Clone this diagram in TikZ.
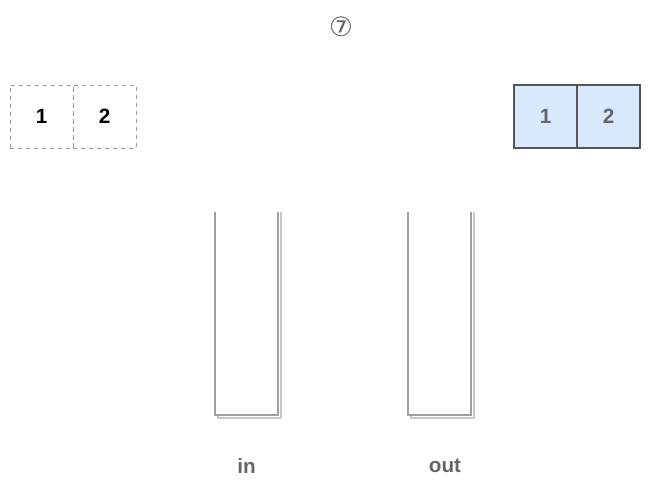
\documentclass[tikz,border=0pt]{standalone}
\usepackage{fontspec}
\setmainfont{Liberation Sans}
\newfontfamily\symfont{DejaVu Sans}
\usetikzlibrary{positioning}
\definecolor{cellblue}{HTML}{DAE8FC}
\definecolor{celledge}{HTML}{555555}
\definecolor{stackedge}{HTML}{A0A0A0}
\definecolor{stackshade}{HTML}{C8C8C8}
\definecolor{labelgray}{HTML}{666666}
\tikzset{%
	cell/.style={inner sep=0pt,outer sep=0pt,shape=rectangle,minimum width=47.25pt,minimum height=47.25pt,font=\fontsize{15.5}{17}\selectfont\bfseries},
	ghost/.style={cell,draw=gray!80,dashed,text=black},
	filled/.style={cell,draw=celledge,fill=cellblue,text=celledge!90,line width=0.9pt},
	stack/.style={stackedge,line width=1pt,fill=white},
	shade/.style={stackshade,line width=2pt},
	caption/.style={font=\fontsize{15.5}{17}\selectfont\bfseries,text=labelgray},
}

\begin{document}
\begin{tikzpicture}[x=0.75pt,y=-0.75pt]
			\useasboundingbox (0,0) rectangle (656,481);
			
			%step number
			\node[text=labelgray,font=\symfont\fontsize{20}{22}\selectfont] (num) at (341,27) {⑦};
			
			%dashed pair
			\node[ghost] (g1) at (41.5,116.5) {1};
			\node[ghost,right=0pt of g1] (g2) {2};
			
			%filled pair
			\node[filled] (f1) at (545.5,116.5) {1};
			\node[filled,right=0pt of f1] (f2) {2};
			
			%stacks
			\draw[shade] (218,212) -- (218,418) -- (281,418) -- (281,212);
			\draw[stack] (215,212) -- (215,415) -- (278,415) -- (278,212);
			\draw[shade] (411,212) -- (411,418) -- (474,418) -- (474,212);
			\draw[stack] (408,212) -- (408,415) -- (471,415) -- (471,212);
			
			\node[caption] (in) at (246.5,466) {in};
			\node[caption] (out) at (445,466) {out};
		\end{tikzpicture}
\end{document}
